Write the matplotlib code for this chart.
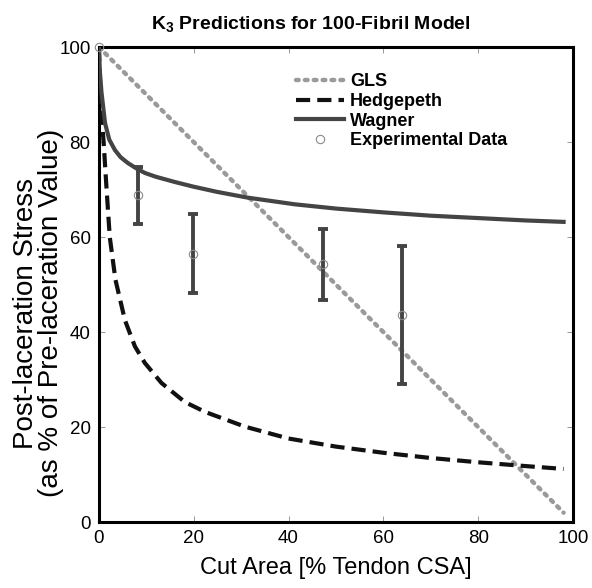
import matplotlib
matplotlib.use("Agg")
import matplotlib.pyplot as plt

plt.rcParams['font.family'] = ['Liberation Sans', 'DejaVu Sans']
plt.rcParams['mathtext.fontset'] = 'custom'
plt.rcParams['mathtext.rm'] = 'Liberation Sans'
plt.rcParams['mathtext.bf'] = 'Liberation Sans:bold'

# GLS (linear load sharing)
gls_x = [0, 98]
gls_y = [100, 2]

# Hedgepeth
hed_x = [0, 0.2, 0.4, 0.7, 1.0, 1.6, 2.3, 3.5, 5.5, 7.6, 9.7, 13.2, 18.1, 22.4,
         30.8, 40, 50, 60, 70, 80, 90, 98]
hed_y = [100, 94, 89, 84, 80, 70.5, 60, 51, 42.5, 37, 33.5, 29.3, 25.3, 23.2,
         20.1, 17.6, 15.9, 14.6, 13.5, 12.6, 11.8, 11.2]

# Wagner
wag_x = [0, 0.2, 0.55, 1.3, 2.2, 3.4, 4.6, 6.1, 8, 9.7, 12, 16, 20, 25, 31.4,
         41.3, 50, 60, 70, 80, 90, 98]
wag_y = [100, 95, 90.5, 84, 80.5, 78.3, 76.8, 75.6, 74.4, 73.5, 72.7, 71.6,
         70.6, 69.5, 68.3, 66.9, 66.0, 65.2, 64.5, 64.0, 63.5, 63.2]

# Experimental data
exp_x = [0, 8.2, 19.9, 47.3, 64.0]
exp_y = [100, 68.8, 56.5, 54.3, 43.6]
exp_err = [0, 6.0, 8.3, 7.5, 14.5]

fig = plt.figure(figsize=(5.92, 5.88), dpi=100)
ax = fig.add_axes([0.167, 0.112, 0.801, 0.808])

ax.plot(gls_x, gls_y, color='#9a9a9a', lw=3.2, linestyle=(0, (0.6, 1.4)),
        dash_capstyle='round', label='GLS', zorder=2)
ax.plot(hed_x, hed_y, color='#111111', lw=3.0, linestyle=(0, (3.4, 1.7)),
        label='Hedgepeth', zorder=3)
ax.plot(wag_x, wag_y, color='#444444', lw=3.0, label='Wagner', zorder=3)

ax.errorbar(exp_x[1:], exp_y[1:], yerr=exp_err[1:], fmt='none',
            ecolor='#444444', elinewidth=2.8, capsize=3.6, capthick=2.8, zorder=4)
ax.plot(exp_x, exp_y, linestyle='none', marker='o', ms=6, mfc='none',
        mec='#8a8a8a', mew=0.8, label='Experimental Data', zorder=5,
        clip_on=False)

ax.set_xlim(0, 100)
ax.set_ylim(0, 100)
ax.set_xticks([0, 20, 40, 60, 80, 100])
ax.set_yticks([0, 20, 40, 60, 80, 100])
ax.tick_params(direction='in', length=4, width=0.6, color='#888888',
               top=True, right=True, labelsize=13.5, pad=6)
for s in ax.spines.values():
    s.set_linewidth(2.2)
    s.set_color('black')

ax.set_xlabel('Cut Area [% Tendon CSA]', fontsize=17, labelpad=7)
ax.set_ylabel('Post-laceration Stress\n(as % of Pre-laceration Value)',
              fontsize=20, linespacing=0.95)
ax.yaxis.set_label_coords(-0.074, 0.44)
ax.set_title(r'$\mathbf{K_3}$ Predictions for 100-Fibril Model',
             fontsize=14, fontweight='bold', pad=13, x=0.447)

leg = ax.legend(loc='upper left', bbox_to_anchor=(0.415, 0.945), frameon=False,
                prop={'weight': 'bold', 'size': 13}, handlelength=2.7,
                handletextpad=0.3, labelspacing=0.15, borderaxespad=0,
                borderpad=0)

fig.savefig('out.png', dpi=100)
